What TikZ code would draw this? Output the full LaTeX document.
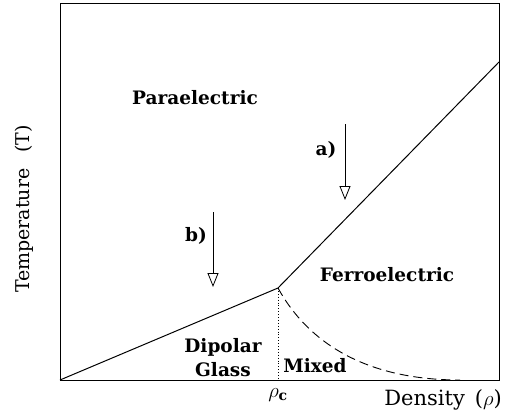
\documentclass[tikz,border=0pt]{standalone}
\usepackage{fontspec}
\setmainfont{DejaVu Serif}
\usepackage{tikz}
\usetikzlibrary{arrows.meta,calc}

\begin{document}
\begin{tikzpicture}[x=1pt,y=1pt,
    phase/.style={font=\fontsize{18.5}{24}\selectfont\bfseries},
    axislabel/.style={font=\fontsize{21}{26}\selectfont},
    probe/.style={line width=.8pt,-{Triangle[open,length=14pt,width=11pt]}}]
      \useasboundingbox (0,0) rectangle (522,416);
      % frame and phase lines
      \draw[line width=1pt] (60,36) rectangle (499,412);
      \coordinate (origin) at (60,36);
      \coordinate (kink) at (278,128);
      \coordinate (edge) at (499,354);
      \coordinate (foot) at (278,36);
      \draw[line width=1pt] (origin) -- (kink) -- (edge);
      \draw[line width=.9pt,dotted] (kink) -- (foot);
      \draw[line width=.9pt,dash pattern=on 9pt off 5pt] (kink) .. controls (310,70) and (370,36) .. (460,36);
      % cooling paths
      \coordinate (atop) at (345,292);
      \coordinate (atip) at (345,216);
      \coordinate (btop) at (213,204);
      \coordinate (btip) at (213,129);
      \draw[probe] (atop) -- (atip);
      \draw[probe] (btop) -- (btip);
      \node[phase] (la) at (326,266) {a)};
      \node[phase] (lb) at (196,180) {b)};
      % phases
      \node[phase] (para) at (195,318) {Paraelectric};
      \node[phase] (ferro) at (387,141) {Ferroelectric};
      \node[phase,align=center] (glass) at (223,58) {Dipolar\\Glass};
      \node[phase] (mixed) at (315,50) {Mixed};
      % axes
      \node[font=\fontsize{20}{22}\selectfont] (rhoc) at (278,21) {$\rho_{\mathbf{c}}$};
      \node[axislabel] (xlab) at (443,16) {Density\hspace{10pt}($\rho$)};
      \node[axislabel,font=\fontsize{19}{24}\selectfont,rotate=90] (ylab) at (24,207) {Temperature\hspace{16pt}(T)};
    \end{tikzpicture}
\end{document}
